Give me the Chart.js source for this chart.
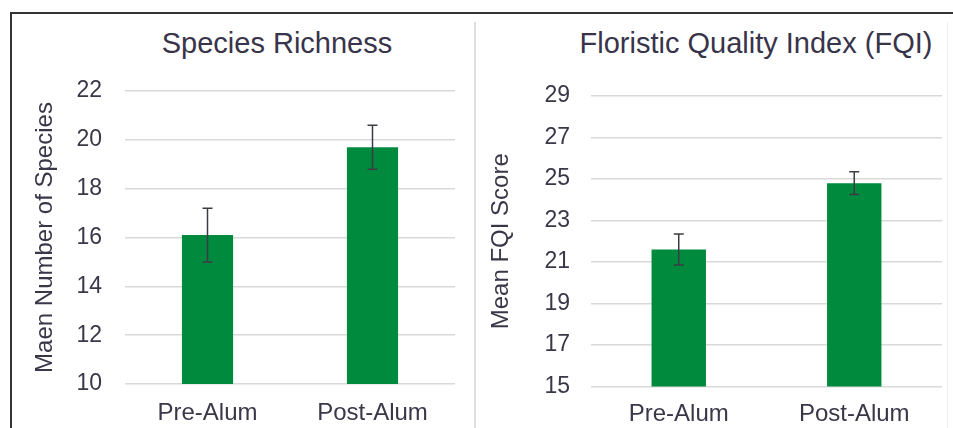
<!DOCTYPE html>
<html>
<head>
<meta charset="utf-8">
<script src="https://cdn.jsdelivr.net/npm/chart.js@4"></script>
<style>
  body { margin: 0; background: #fff; width: 953px; height: 428px; overflow: hidden; position: relative; font-family: "Liberation Sans", Arial, sans-serif; }
  .frame { position: absolute; left: 10px; top: 12px; width: 943px; height: 416px; border-top: 2px solid #333; border-left: 2px solid #333; }
  .divider { position: absolute; left: 474px; top: 22px; width: 2px; height: 406px; background: #dedede; }
  .edge { position: absolute; left: 947px; top: 22px; width: 1px; height: 406px; background: #eee; }
  .title { position: absolute; top: 27px; font-size: 29px; color: #38344a; text-align: center; white-space: nowrap; }
  canvas { position: absolute; }
</style>
</head>
<body>
<div class="frame"></div>
<div class="divider"></div>
<div class="edge"></div>
<div class="title" style="left:77px;width:400px;">Species Richness</div>
<div class="title" style="left:556px;width:400px;">Floristic Quality Index (FQI)</div>
<canvas class="bar" style="left:12px;top:14px;width:460px;height:414px;" width="460" height="414"></canvas>
<canvas class="bar2" style="left:477px;top:14px;width:476px;height:414px;" width="476" height="414"></canvas>
<script>
const categories = ['Pre-Alum', 'Post-Alum'];

const richnessMean = [16.1, 19.7];
const richnessErr = [1.1, 0.9];
const richnessTicks = [10, 12, 14, 16, 18, 20, 22];

const fqiMean = [21.6, 24.8];
const fqiErr = [0.75, 0.55];
const fqiTicks = [15, 17, 19, 21, 23, 25, 27, 29];

const green = '#008a3e';
const textColor = '#3a3748';

// draws the +/- error whiskers on top of each bar
const errorBars = {
    id: 'errorBars',
    afterDatasetsDraw(chart) {
        const c = chart.ctx;
        const y = chart.scales.y;
        chart.data.datasets.forEach((ds, i) => {
            chart.getDatasetMeta(i).data.forEach((bar, j) => {
                const top = y.getPixelForValue(ds.data[j] + ds.errors[j]);
                const bot = y.getPixelForValue(ds.data[j] - ds.errors[j]);
                c.save();
                c.strokeStyle = '#3c3c46';
                c.lineWidth = 1.5;
                c.beginPath();
                c.moveTo(bar.x, top); c.lineTo(bar.x, bot);
                c.moveTo(bar.x - 5, top); c.lineTo(bar.x + 5, top);
                c.moveTo(bar.x - 5, bot); c.lineTo(bar.x + 5, bot);
                c.stroke();
                c.restore();
            });
        });
    }
};

function makeChart(el, means, errs, ticks, yTitle, opt) {
    return new Chart(el, {
        type: 'bar',
        data: {
            labels: categories,
            datasets: [{
                data: means,
                errors: errs,
                backgroundColor: green,
                borderWidth: 0,
                categoryPercentage: 1,
                barPercentage: 0.31
            }]
        },
        options: {
            responsive: false,
            animation: false,
            layout: { padding: { top: opt.top, right: opt.right, left: 0, bottom: 0 } },
            plugins: { legend: { display: false }, tooltip: { enabled: false } },
            scales: {
                x: {
                    grid: { display: false },
                    border: { display: false },
                    ticks: { color: textColor, font: { size: 24, family: 'Liberation Sans' }, padding: opt.xPad },
                    afterFit(s) { s.height = opt.xHeight; }
                },
                y: {
                    min: ticks[0],
                    max: ticks[ticks.length - 1],
                    afterBuildTicks(s) { s.ticks = ticks.map(v => ({ value: v })); },
                    grid: { color: '#d9d9d9', lineWidth: 1.5, drawTicks: false },
                    border: { display: false },
                    ticks: { color: textColor, font: { size: 23, family: 'Liberation Sans' }, padding: opt.yPad },
                    title: {
                        display: true,
                        text: yTitle,
                        color: textColor,
                        font: { size: 24, family: 'Liberation Sans' },
                        padding: { top: opt.titlePad, bottom: 0 }
                    },
                    afterFit(s) { s.width = opt.yWidth; }
                }
            }
        },
        plugins: [errorBars]
    });
}

const ctx = document.getElementsByClassName('bar')[0];
makeChart(ctx, richnessMean, richnessErr, richnessTicks, 'Maen Number of Species',
    { top: 77, right: 17, xPad: 7, xHeight: 44, yPad: 23, yWidth: 113, titlePad: 19 });

const ctx2 = document.getElementsByClassName('bar2')[0];
makeChart(ctx2, fqiMean, fqiErr, fqiTicks, 'Mean FQI Score',
    { top: 82, right: 11, xPad: 5, xHeight: 41.5, yPad: 21, yWidth: 114, titlePad: 10 });
</script>
</body>
</html>
